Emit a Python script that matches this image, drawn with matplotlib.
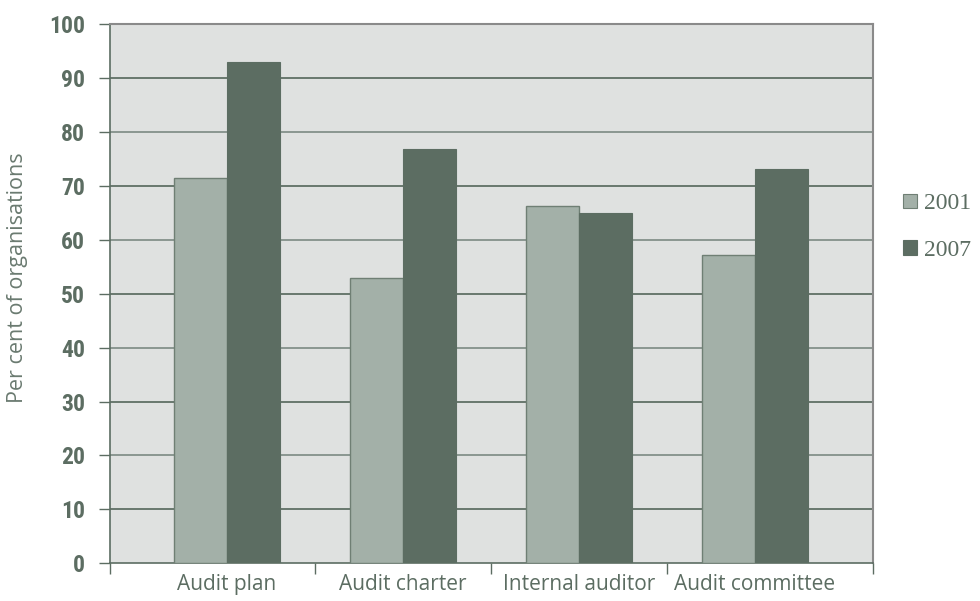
import matplotlib
matplotlib.use("Agg")
import matplotlib.pyplot as plt
import numpy as np
from matplotlib.patches import Rectangle

categories = ["Audit plan", "Audit charter", "Internal auditor", "Audit committee"]
series_names = ["2001", "2007"]
values_2001 = [71.5, 53.0, 66.3, 57.2]
values_2007 = [93.0, 76.8, 65.0, 73.1]
y_ticks = [0, 10, 20, 30, 40, 50, 60, 70, 80, 90, 100]

light = "#a3b0a8"
dark = "#5c6d62"
ink = "#5c6d62"
bg = "#dfe1e0"

fig = plt.figure(figsize=(9.8, 6.01), dpi=100)
ax = fig.add_axes([0.1122, 0.0627, 0.7786, 0.8973])
ax.set_facecolor(bg)

x = np.arange(len(categories))
w = 0.301
ax.bar(x - w / 2, values_2001, width=w, color=light, edgecolor="#6f7f74",
       linewidth=1.0, zorder=3)
ax.bar(x + w / 2, values_2007, width=w, color=dark, edgecolor=dark,
       linewidth=0.8, zorder=3)

ax.set_xlim(-0.665, len(categories) - 0.33)
ax.set_ylim(0, 100)
ax.set_yticks(y_ticks)
ax.set_yticklabels([str(t) for t in y_ticks],
                   fontfamily=["Roboto Condensed", "Roboto", "DejaVu Sans"],
                   fontweight="bold", fontsize=17, color=ink)

# horizontal rules, alternating in tone
for t in y_ticks[1:-1]:
    col = "#5f6f65" if (t // 10) % 2 else "#84918a"
    ax.axhline(t, color=col, linewidth=1.3, zorder=1)

# category boundaries carry the ticks, labels sit centred on the bar pairs
bounds = [ax.get_xlim()[0]] + list(x[:-1] + 0.5) + [ax.get_xlim()[1]]
ax.set_xticks(bounds)
ax.set_xticklabels([])
ax.set_xticks(x, minor=True)
ax.set_xticklabels(categories, minor=True,
                   fontfamily=["Open Sans", "DejaVu Sans"], fontsize=15, color=ink)
ax.tick_params(axis="x", which="minor", length=0, pad=8)
ax.tick_params(axis="x", which="major", length=8, width=1, color=ink)
ax.tick_params(axis="y", length=8, width=1, color=ink, pad=10)

for s in ["left", "bottom"]:
    ax.spines[s].set_color(ink)
    ax.spines[s].set_linewidth(1.2)
for s in ["top", "right"]:
    ax.spines[s].set_color("#8a8a8a")
    ax.spines[s].set_linewidth(1.5)

ax.set_ylabel("Per cent of organisations", fontfamily=["Open Sans", "DejaVu Sans"],
              fontsize=15.5, color="#6a7a70")
ax.yaxis.set_label_coords(-0.108, 0.53)

handles = [Rectangle((0, 0), 1, 1, facecolor=light, edgecolor="#6f7f74", linewidth=0.8),
           Rectangle((0, 0), 1, 1, facecolor=dark, edgecolor=dark, linewidth=0.8)]
leg = fig.legend(handles, series_names, loc="center left",
                 bbox_to_anchor=(0.912, 0.622), frameon=False,
                 prop={"family": ["Liberation Serif", "DejaVu Serif"], "size": 17},
                 handlelength=0.58, handleheight=0.58, handletextpad=0.3,
                 labelspacing=1.1, borderaxespad=0)
for t in leg.get_texts():
    t.set_color(ink)

fig.savefig("out.png", dpi=100, facecolor="white")
